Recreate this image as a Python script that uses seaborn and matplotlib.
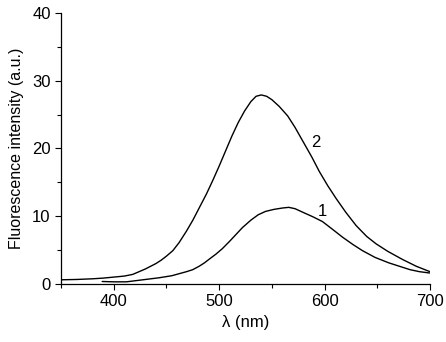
import matplotlib
matplotlib.use("Agg")
import matplotlib.pyplot as plt
import seaborn as sns
import pandas as pd
from matplotlib.ticker import MultipleLocator

sns.set_theme(style="ticks")
plt.rcParams['font.family'] = ['Liberation Sans', 'DejaVu Sans']

wl2 = [350, 365, 380, 390, 400, 410, 418, 424, 430, 435, 440, 445, 450, 456, 462, 469, 475, 481, 488, 494, 500, 506, 512, 518, 524, 530, 535, 540, 545, 550, 557, 565, 572, 580, 588, 595, 603, 611, 620, 630, 640, 649, 660, 674, 687, 700]
int2 = [0.6, 0.65, 0.75, 0.85, 1.0, 1.15, 1.4, 1.8, 2.2, 2.6, 3.0, 3.5, 4.1, 4.9, 6.1, 7.8, 9.4, 11.2, 13.3, 15.3, 17.4, 19.6, 21.8, 23.8, 25.5, 26.9, 27.7, 27.9, 27.7, 27.2, 26.2, 24.8, 23.1, 20.9, 18.7, 16.6, 14.5, 12.6, 10.6, 8.6, 7.0, 5.9, 4.8, 3.6, 2.6, 1.8]

wl1 = [389, 400, 412, 425, 443, 455, 462, 469, 475, 481, 486, 491, 497, 503, 510, 516, 522, 530, 537, 544, 552, 560, 566, 572, 579, 589, 598, 608, 617, 627, 636, 648, 661, 671, 681, 690, 700]
int1 = [0.35, 0.3, 0.3, 0.55, 0.9, 1.2, 1.5, 1.8, 2.1, 2.6, 3.1, 3.7, 4.4, 5.2, 6.3, 7.3, 8.3, 9.4, 10.2, 10.7, 11.0, 11.2, 11.3, 11.1, 10.6, 9.9, 9.2, 8.0, 6.9, 5.8, 4.9, 3.9, 3.1, 2.6, 2.1, 1.8, 1.6]

curve_labels = ["1", "2"]
label_pos_x = [598, 592]
label_pos_y = [10.7, 20.9]

df = pd.concat([
    pd.DataFrame({"wl": wl1, "I": int1, "curve": "1"}),
    pd.DataFrame({"wl": wl2, "I": int2, "curve": "2"}),
])

fig = plt.figure(figsize=(4.46, 3.42), dpi=100)
ax = fig.add_axes([0.137, 0.170, 0.827, 0.792])
sns.lineplot(data=df, x="wl", y="I", units="curve", estimator=None,
             color="black", lw=1.0, ax=ax, sort=False)

for lab, x, y in zip(curve_labels, label_pos_x, label_pos_y):
    ax.text(x, y, lab, fontsize=12, ha="center", va="center", color="black")

ax.set_xlim(350, 700)
ax.set_ylim(0, 40)
ax.xaxis.set_minor_locator(MultipleLocator(50))
ax.yaxis.set_major_locator(MultipleLocator(10))
ax.yaxis.set_minor_locator(MultipleLocator(5))
ax.set_xticks([400, 500, 600, 700])
ax.tick_params(which="both", direction="out", colors="black", labelsize=12, width=0.8)
ax.tick_params(which="major", length=4)
ax.tick_params(which="minor", length=3)
for s in ["top", "right"]:
    ax.spines[s].set_visible(False)
for s in ["left", "bottom"]:
    ax.spines[s].set_color("black")
    ax.spines[s].set_linewidth(0.9)
ax.set_xlabel("λ (nm)", fontsize=12, color="black", labelpad=4)
ax.set_ylabel("Fluorescence intensity (a.u.)", fontsize=11.5, color="black", labelpad=6)
fig.savefig("out.png", dpi=100)
